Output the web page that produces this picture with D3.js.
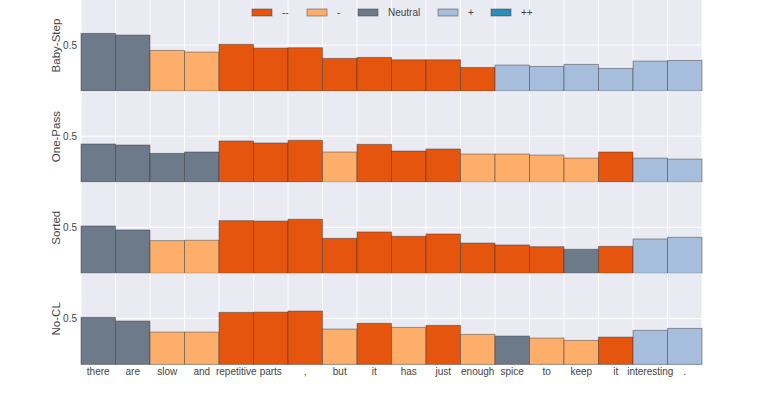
<!DOCTYPE html>
<html>
<head>
<meta charset="utf-8">
<script src="https://cdn.jsdelivr.net/npm/d3@7"></script>
<style>
  body { margin: 0; background: #fff; }
  text { font-family: "Liberation Sans", Arial, sans-serif; fill: #444; }
</style>
</head>
<body>
<div id="chart"></div>
<script>
// tokens of the sentence (x axis)
var tokens = ["there", "are", "slow", "and", "repetitive", "parts", ",", "but", "it",
  "has", "just", "enough", "spice", "to", "keep", "it", "interesting", "."];

var panels = ["Baby-Step", "One-Pass", "Sorted", "No-CL"];

// attribution scores per panel
var babyStep = [0.627, 0.609, 0.442, 0.424, 0.508, 0.467, 0.471, 0.355, 0.366,
  0.340, 0.340, 0.257, 0.283, 0.268, 0.290, 0.247, 0.326, 0.333];
var onePass = [0.415, 0.404, 0.313, 0.328, 0.448, 0.426, 0.455, 0.328, 0.411,
  0.339, 0.361, 0.306, 0.306, 0.295, 0.262, 0.328, 0.262, 0.251];
var sorted = [0.514, 0.471, 0.355, 0.359, 0.572, 0.568, 0.587, 0.380, 0.449,
  0.402, 0.427, 0.329, 0.308, 0.289, 0.261, 0.293, 0.373, 0.391];
var noCL = [0.511, 0.471, 0.351, 0.351, 0.565, 0.568, 0.580, 0.384, 0.446,
  0.402, 0.424, 0.326, 0.308, 0.286, 0.261, 0.297, 0.370, 0.391];

// predicted sentiment class per token
var babyStepCls = ["Neutral", "Neutral", "-", "-", "--", "--", "--", "--", "--",
  "--", "--", "--", "+", "+", "+", "+", "+", "+"];
var onePassCls = ["Neutral", "Neutral", "Neutral", "Neutral", "--", "--", "--", "-", "--",
  "--", "--", "-", "-", "-", "-", "--", "+", "+"];
var sortedCls = ["Neutral", "Neutral", "-", "-", "--", "--", "--", "--", "--",
  "--", "--", "--", "--", "--", "Neutral", "--", "+", "+"];
var noCLCls = ["Neutral", "Neutral", "-", "-", "--", "--", "--", "-", "--",
  "-", "--", "-", "Neutral", "-", "-", "--", "+", "+"];

var classes = ["--", "-", "Neutral", "+", "++"];
var classColors = ["#e6550d", "#fdae6b", "#6c7a89", "#a6bddb", "#2b8cbe"];

var yTicks = [0.5];

var values = [babyStep, onePass, sorted, noCL];
var cls = [babyStepCls, onePassCls, sortedCls, noCLCls];

var width = 780, height = 405;
var margin = { left: 81, right: 78, top: 0 };
var panelH = 91.1;

var svg = d3.select("#chart").append("svg")
  .attr("width", width)
  .attr("height", height);

var x = d3.scaleBand()
  .domain(d3.range(tokens.length))
  .range([margin.left, width - margin.right])
  .padding(0);

var color = d3.scaleOrdinal().domain(classes).range(classColors);

var y = d3.scaleLinear().domain([0, 0.99]).range([panelH, 0]);

panels.forEach(function (name, p) {
  var g = svg.append("g")
    .attr("transform", "translate(0," + (margin.top + p * panelH) + ")");

  g.append("rect")
    .attr("x", margin.left)
    .attr("y", 0)
    .attr("width", width - margin.right - margin.left)
    .attr("height", panelH)
    .attr("fill", "#eaeaf2");

  // vertical grid at bar edges
  g.selectAll(".vgrid")
    .data(d3.range(tokens.length + 1))
    .enter().append("line")
    .attr("x1", function (d) { return margin.left + d * x.bandwidth(); })
    .attr("x2", function (d) { return margin.left + d * x.bandwidth(); })
    .attr("y1", 0)
    .attr("y2", panelH)
    .attr("stroke", "#fff")
    .attr("stroke-width", 1);

  g.selectAll(".hgrid")
    .data(yTicks)
    .enter().append("line")
    .attr("x1", margin.left)
    .attr("x2", width - margin.right)
    .attr("y1", function (d) { return y(d); })
    .attr("y2", function (d) { return y(d); })
    .attr("stroke", "#fff")
    .attr("stroke-width", 1);

  g.selectAll(".bar")
    .data(values[p])
    .enter().append("rect")
    .attr("x", function (d, i) { return x(i); })
    .attr("y", function (d) { return y(d); })
    .attr("width", x.bandwidth())
    .attr("height", function (d) { return y(0) - y(d); })
    .attr("fill", function (d, i) { return color(cls[p][i]); })
    .attr("stroke", "rgba(50,50,50,0.45)")
    .attr("stroke-width", 1);

  g.selectAll(".ytick")
    .data(yTicks)
    .enter().append("text")
    .attr("x", margin.left - 4)
    .attr("y", function (d) { return y(d); })
    .attr("dy", "0.35em")
    .attr("text-anchor", "end")
    .style("font-size", "10px")
    .text(function (d) { return d; });

  g.append("text")
    .attr("transform", "translate(" + 60 + "," + (panelH / 2) + ") rotate(-90)")
    .attr("text-anchor", "middle")
    .style("font-size", "11.5px")
    .text(name);
});

// x axis labels
svg.selectAll(".xlab")
  .data(tokens)
  .enter().append("text")
  .attr("x", function (d, i) { return x(i) + x.bandwidth() / 2; })
  .attr("y", panels.length * panelH + 11)
  .attr("text-anchor", "middle")
  .style("font-size", "10px")
  .text(function (d) { return d; });

// legend
var legendX = [252, 307, 358, 438, 491];
var leg = svg.selectAll(".leg")
  .data(classes)
  .enter().append("g")
  .attr("transform", function (d, i) { return "translate(" + legendX[i] + ",9)"; });

leg.append("rect")
  .attr("width", 20)
  .attr("height", 7)
  .attr("fill", function (d) { return color(d); })
  .attr("stroke", "rgba(50,50,50,0.45)")
  .attr("stroke-width", 1);

leg.append("text")
  .attr("x", 30)
  .attr("y", 3.5)
  .attr("dy", "0.35em")
  .style("font-size", "10px")
  .text(function (d) { return d; });
</script>
</body>
</html>
